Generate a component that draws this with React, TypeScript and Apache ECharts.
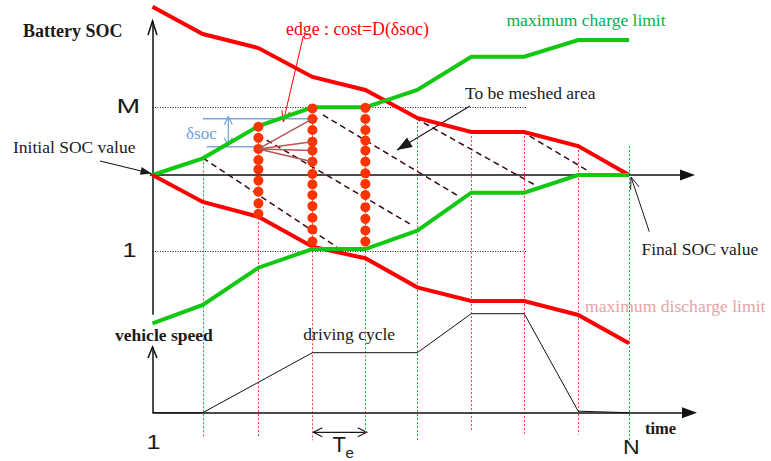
import React, { useEffect, useRef } from "react";
import * as echarts from "echarts";

// ---------- data (time in steps Te, SOC in δsoc units, speed in km/h) ----------
const timeNodes = [0, 0.95, 2.0, 3.02, 4.02, 5.0, 6.02, 7.02, 8.04, 9.0];
const upperDischargeBound = [15.15, 12.7, 11.44, 8.83, 7.66, 5.14, 3.87, 3.87, 2.61, 0];
const maxChargeLimit = [0, 1.5, 4.41, 6.1, 6.1, 7.66, 10.66, 10.66, 12.16, 12.16];
const maxDischargeLimit = [0, -2.43, -3.76, -6.46, -7.5, -10.12, -11.35, -11.35, -12.61, -15.16];
const lowerChargeBound = [-13.36, -11.71, -8.35, -6.67, -6.67, -5.02, -1.59, -1.59, 0, 0];

const speedTimes = [0, 0.95, 3.02, 5.0, 6.02, 7.02, 8.04, 9.0];
const speedValues = [0, 0, 40, 40, 66, 66, 1, 0];

// vertical time-step lines (nodes 1..9): top and bottom in SOC units
const stepLineTop = [1.5, 4.41, 6.1, 6.1, 5.14, 3.87, 3.87, 2.61, 2.61];
const stepLineBottom = [-23.7, -23.6, -23.9, -23.4, -24.0, -23.1, -23.3, -23.4, -24.4];

// SOC grid nodes in three columns (node 2, 3, 4)
const nodesCol2 = [4.35, 3.35, 2.35, 1.35, 0.5, -0.5, -1.5, -2.55, -3.5];
const nodesCol3 = [6.0, 5.05, 4.05, 3.0, 2.2, 1.2, 0.1, -0.85, -1.8, -2.8, -3.85, -4.9, -6.0];
const nodesCol4 = [6.05, 5.05, 4.05, 3.1, 2.2, 1.2, 0.15, -0.8, -1.8, -2.9, -3.95, -5.0, -6.0];

// edges from node (col2, index 2) to col3 indices
const edgeSource = 2;
const edgeTargets = [1, 3, 4, 5];

// SOC levels
const levelM = 6.12;
const level1 = -6.85;
const levelLineEnd = 7.07;

// dashed iso-lines: [t1,u1,t2,u2]
const dashedLines = [
  [0.954, 1.53, 3.484, -6.49],
  [1.992, 3.6, 4.863, -4.41],
  [3.22, 5.41, 5.807, -1.98],
  [4.957, 5.14, 7.224, -0.9],
  [6.96, 3.96, 8.263, 0.27],
];

// axes extents
const socAxisTop = 13.87;
const socAxisBottom = -12.6;
const timeAxisTip = 10.245;
const speedAxisTop = 43.8;
const speedTimeAxisTip = 10.283;

// ---------- layout ----------
const W = 771;
const H = 461;
const ORIGIN_X = 152.5;
const PX_PER_T = 52.95;
const ORIGIN_Y = 175;
const PX_PER_U = 11.1;
const SPEED_ORIGIN_Y = 412.7;
const PX_PER_S = 1.5;

const SERIF = "Liberation Serif";
const SANS = "Liberation Sans";
const RED = "#ff0000";
const GREEN = "#12c812";
const INK = "#1a1a1a";

function head(x1: number, y1: number, x2: number, y2: number, len: number, half: number) {
  const dx = x2 - x1;
  const dy = y2 - y1;
  const n = Math.hypot(dx, dy) || 1;
  const ux = dx / n;
  const uy = dy / n;
  const bx = x2 - ux * len;
  const by = y2 - uy * len;
  return [
    [bx - uy * half, by + ux * half],
    [x2, y2],
    [bx + uy * half, by - ux * half],
  ];
}

function arrow(
  x1: number, y1: number, x2: number, y2: number,
  color: string, width: number, filled: boolean, len: number, half: number, both = false
) {
  const els: any[] = [
    { type: "line", shape: { x1, y1, x2, y2 }, style: { stroke: color, lineWidth: width }, silent: true },
  ];
  const mk = (a: number, b: number, c: number, d: number) =>
    filled
      ? { type: "polygon", shape: { points: head(a, b, c, d, len, half) }, style: { fill: color }, silent: true }
      : { type: "polyline", shape: { points: head(a, b, c, d, len, half) }, style: { stroke: color, lineWidth: width, fill: "none" }, silent: true };
  els.push(mk(x1, y1, x2, y2));
  if (both) els.push(mk(x2, y2, x1, y1));
  return els;
}

function label(
  text: string, x: number, y: number, size: number, color: string,
  family = SERIF, weight = "normal", scaleX = 1
) {
  return {
    type: "text",
    x,
    y,
    scaleX,
    silent: true,
    style: {
      text,
      x: 0,
      y: 0,
      fontFamily: family,
      fontSize: size,
      fontWeight: weight,
      fill: color,
      textAlign: "left",
      textVerticalAlign: "middle",
    },
  };
}

export default function App() {
  const ref = useRef<HTMLDivElement>(null);

  useEffect(() => {
    if (!ref.current) return;
    const chart = echarts.init(ref.current, null, { renderer: "svg" });

    const pair = (ts: number[], vs: number[]) => ts.map((t, i) => [t, vs[i]]);
    const dots = [
      ...nodesCol2.map((u) => [timeNodes[2], u]),
      ...nodesCol3.map((u) => [timeNodes[3], u]),
      ...nodesCol4.map((u) => [timeNodes[4], u]),
    ];
    const stepLines = stepLineTop.map((top, i) => ({
      coords: [[timeNodes[i + 1], top], [timeNodes[i + 1], stepLineBottom[i]]],
    }));
    const edges = edgeTargets.map((k) => ({
      coords: [[timeNodes[2], nodesCol2[edgeSource]], [timeNodes[3], nodesCol3[k]]],
    }));

    const thick = (color: string) => ({
      type: "line",
      symbol: "none",
      xAxisIndex: 0,
      yAxisIndex: 0,
      lineStyle: { color, width: 4, join: "miter" },
      z: 5,
      silent: true,
    });

    chart.setOption({
      animation: false,
      grid: { left: 0, right: 0, top: 0, bottom: 0, containLabel: false },
      xAxis: { type: "value", min: -ORIGIN_X / PX_PER_T, max: (W - ORIGIN_X) / PX_PER_T, show: false },
      yAxis: [
        { type: "value", min: -(H - ORIGIN_Y) / PX_PER_U, max: ORIGIN_Y / PX_PER_U, show: false },
        { type: "value", min: -(H - SPEED_ORIGIN_Y) / PX_PER_S, max: SPEED_ORIGIN_Y / PX_PER_S, show: false },
      ],
      series: [
        {
          type: "lines",
          coordinateSystem: "cartesian2d",
          xAxisIndex: 0,
          yAxisIndex: 0,
          data: stepLines,
          lineStyle: { color: "#ff3b3b", width: 1, type: [2, 2], opacity: 1, curveness: 0 },
          z: 1,
          silent: true,
        },
        {
          type: "lines",
          coordinateSystem: "cartesian2d",
          xAxisIndex: 0,
          yAxisIndex: 0,
          data: [
            { coords: [[0, levelM], [levelLineEnd, levelM]] },
            { coords: [[0, level1], [levelLineEnd, level1]] },
          ],
          lineStyle: { color: "#222", width: 1, type: [1, 1.5], opacity: 1, curveness: 0 },
          z: 1,
          silent: true,
        },
        {
          type: "lines",
          coordinateSystem: "cartesian2d",
          xAxisIndex: 0,
          yAxisIndex: 0,
          data: dashedLines.map((d) => ({ coords: [[d[0], d[1]], [d[2], d[3]]] })),
          lineStyle: { color: "#3a0c0c", width: 1.5, type: [6, 4], opacity: 1, curveness: 0 },
          z: 2,
          silent: true,
        },
        {
          type: "lines",
          coordinateSystem: "cartesian2d",
          xAxisIndex: 0,
          yAxisIndex: 0,
          data: [
            { coords: [[0, socAxisBottom], [0, socAxisTop]] },
            { coords: [[-0.05, 0], [timeAxisTip - 0.1, 0]] },
          ],
          lineStyle: { color: "#111", width: 1.5, type: "solid", opacity: 1, curveness: 0 },
          z: 3,
          silent: true,
        },
        {
          type: "lines",
          coordinateSystem: "cartesian2d",
          xAxisIndex: 0,
          yAxisIndex: 1,
          data: [
            { coords: [[0, 0], [0, speedAxisTop]] },
            { coords: [[0, 0], [speedTimeAxisTip - 0.1, 0]] },
          ],
          lineStyle: { color: "#111", width: 1.5, type: "solid", opacity: 1, curveness: 0 },
          z: 3,
          silent: true,
        },
        { ...thick(RED), data: pair(timeNodes, upperDischargeBound) },
        { ...thick(GREEN), data: pair(timeNodes, maxChargeLimit) },
        { ...thick(RED), data: pair(timeNodes, maxDischargeLimit) },
        { ...thick(GREEN), data: pair(timeNodes, lowerChargeBound) },
        {
          type: "line",
          symbol: "none",
          xAxisIndex: 0,
          yAxisIndex: 1,
          data: pair(speedTimes, speedValues),
          lineStyle: { color: "#111", width: 1 },
          z: 4,
          silent: true,
        },
        {
          type: "scatter",
          xAxisIndex: 0,
          yAxisIndex: 0,
          data: dots,
          symbol: "circle",
          symbolSize: 10,
          itemStyle: { color: "#ff3300", opacity: 1 },
          z: 6,
          silent: true,
        },
        {
          type: "lines",
          coordinateSystem: "cartesian2d",
          xAxisIndex: 0,
          yAxisIndex: 0,
          data: edges,
          lineStyle: { color: "#b85454", width: 1.5, type: "solid", opacity: 1, curveness: 0 },
          z: 7,
          silent: true,
        },
      ],
    });

    const soc = (t: number, u: number) => chart.convertToPixel({ seriesIndex: 5 }, [t, u]) as number[];
    const spd = (t: number, s: number) => chart.convertToPixel({ seriesIndex: 9 }, [t, s]) as number[];

    const [sx, sTop] = soc(0, socAxisTop);
    const [xTip, xY] = soc(timeAxisTip, 0);
    const [vx, vTop] = spd(0, speedAxisTop);
    const [vTip, vY] = spd(speedTimeAxisTip, 0);
    const [ix, iy] = soc(0, 0);
    const [fx, fy] = soc(timeNodes[9], 0);

    const els: any[] = [
      // axis arrow heads
      { type: "polyline", shape: { points: [[sx - 4.5, sTop + 14], [sx, sTop], [sx + 4.5, sTop + 14]] }, style: { stroke: "#111", lineWidth: 1.5, fill: "none" }, silent: true },
      { type: "polyline", shape: { points: [[vx - 4.5, vTop + 11], [vx, vTop], [vx + 4.5, vTop + 11]] }, style: { stroke: "#111", lineWidth: 1.5, fill: "none" }, silent: true },
      { type: "polygon", shape: { points: [[xTip - 15, xY - 5.5], [xTip, xY], [xTip - 15, xY + 5.5]] }, style: { fill: "#111" }, silent: true },
      { type: "polygon", shape: { points: [[vTip - 15, vY - 5.5], [vTip, vY], [vTip - 15, vY + 5.5]] }, style: { fill: "#111" }, silent: true },
      // annotations
      ...arrow(100, 161, ix - 1, iy - 1.5, INK, 1.2, true, 11, 4),
      ...arrow(649.3, 231.7, fx + 2, fy + 2, INK, 1, false, 12, 4.5),
      ...arrow(303.3, 36, 283.3, 121.7, RED, 1, false, 11, 4),
      ...arrow(470, 106, 397, 150, INK, 1.2, true, 15, 5.5),
      ...arrow(313.3, 432.3, 366.7, 432.3, INK, 1.2, false, 9, 4.5, true),
      ...arrow(228.3, 116.7, 228.3, 145.7, "#6f9fdc", 1.2, false, 8, 4, true),
      { type: "line", shape: { x1: 202.7, y1: 118.7, x2: 318.3, y2: 118.7 }, style: { stroke: "#7aa6dc", lineWidth: 1.5 }, silent: true },
      { type: "line", shape: { x1: 206.7, y1: 146.7, x2: 256.7, y2: 146.7 }, style: { stroke: "#7aa6dc", lineWidth: 1.5 }, silent: true },
      // texts
      label("Battery SOC", 23, 31, 18, INK, SERIF, "bold"),
      label("M", 116.5, 105, 21, INK, SANS, "normal", 1.35),
      label("1", 122.5, 250, 21, INK, SANS, "normal", 1.2),
      label("1", 146.5, 441.5, 21, INK, SANS, "normal", 1.2),
      label("N", 623, 447, 21, INK, SANS, "normal", 1.1),
      label("T", 332.5, 444, 22, INK, SANS),
      label("e", 345.5, 452.5, 15, INK, SANS),
      label("Initial SOC value", 13, 147, 17.5, INK),
      label("edge : cost=D(δsoc)", 286, 28.5, 17.8, RED),
      label("maximum charge limit", 506.5, 19.5, 17.5, "#00b050"),
      label("To be meshed area", 465, 92.5, 17.5, INK),
      label("δsoc", 186, 133.5, 17, "#6e9fdc"),
      label("Final SOC value", 641.5, 248.5, 17.5, INK),
      label("maximum discharge limit", 585, 305.5, 17.6, "#e6a3a3"),
      label("driving cycle", 303.3, 333.5, 17.5, INK),
      label("vehicle speed", 115, 335, 17.5, INK, SERIF, "bold"),
      label("time", 645, 428.5, 16.5, INK, SERIF, "bold"),
    ];

    chart.setOption({ graphic: els });

    return () => chart.dispose();
  }, []);

  return (
    <div
      ref={ref}
      style={{ position: "fixed", left: 0, top: 0, width: W, height: H, background: "#fff" }}
    />
  );
}
